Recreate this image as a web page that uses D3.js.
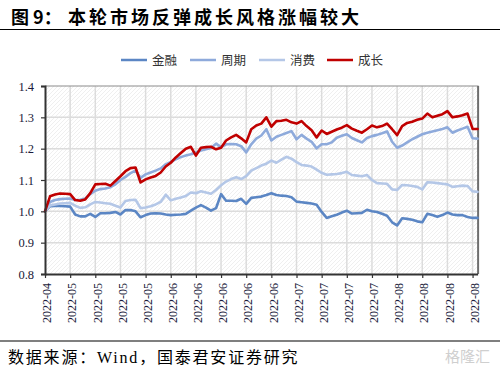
<!DOCTYPE html>
<html><head><meta charset="utf-8">
<script src="https://cdn.jsdelivr.net/npm/d3@7"></script>
<style>
html,body{margin:0;padding:0;background:#fff;}
svg{display:block;}
</style></head>
<body>
<svg id="c" width="500" height="371"></svg>
<script>
const seriesNames = ["金融","周期","消费","成长"];
const seriesColors = ["#5b86c4","#8eaadb","#b4c7e7","#c00000"];
const tickLabels = ["2022-04","2022-05","2022-05","2022-05","2022-05","2022-06","2022-06","2022-06","2022-06","2022-06","2022-07","2022-07","2022-07","2022-07","2022-08","2022-08","2022-08","2022-08"];
const yTicks = [0.8,0.9,1.0,1.1,1.2,1.3,1.4];

const finance = [1.000,1.016,1.017,1.017,1.016,1.015,0.990,0.984,0.984,0.992,0.982,0.994,0.994,0.995,0.998,0.990,1.004,1.004,1.000,0.981,
0.988,0.993,0.994,0.993,0.990,0.988,0.989,0.990,0.992,1.002,1.012,1.020,1.012,1.002,1.010,1.055,1.034,1.034,1.033,1.040,
1.024,1.043,1.045,1.047,1.052,1.058,1.052,1.050,1.049,1.045,1.031,1.029,1.027,1.025,1.021,0.998,0.979,0.984,0.989,0.996,
1.002,0.993,0.994,0.995,1.005,1.000,0.998,0.992,0.986,0.965,0.955,0.978,0.976,0.973,0.968,0.965,0.992,0.988,0.983,0.988,
0.996,0.990,0.988,0.988,0.982,0.979,0.979];
const cyclical = [1.000,1.030,1.036,1.039,1.040,1.041,1.036,1.037,1.041,1.055,1.066,1.071,1.073,1.077,1.086,1.100,1.110,1.122,1.130,1.107,
1.118,1.124,1.130,1.137,1.150,1.158,1.166,1.173,1.178,1.182,1.188,1.194,1.198,1.202,1.216,1.205,1.214,1.215,1.214,1.208,
1.188,1.214,1.232,1.242,1.262,1.226,1.238,1.244,1.250,1.256,1.230,1.244,1.232,1.222,1.201,1.214,1.214,1.220,1.235,1.241,
1.246,1.234,1.227,1.220,1.234,1.240,1.244,1.249,1.255,1.222,1.203,1.210,1.220,1.230,1.238,1.246,1.251,1.255,1.259,1.263,
1.268,1.251,1.258,1.264,1.270,1.233,1.232];
const consumer = [1.000,1.019,1.022,1.025,1.026,1.027,1.018,1.011,1.013,1.022,1.030,1.028,1.026,1.024,1.018,1.012,1.033,1.036,1.037,1.010,
1.012,1.016,1.022,1.030,1.053,1.035,1.040,1.044,1.049,1.060,1.058,1.064,1.060,1.056,1.068,1.083,1.095,1.103,1.109,1.103,
1.112,1.130,1.138,1.146,1.152,1.162,1.155,1.165,1.174,1.168,1.157,1.148,1.146,1.143,1.133,1.123,1.117,1.118,1.119,1.122,
1.126,1.116,1.114,1.112,1.116,1.100,1.090,1.089,1.088,1.070,1.068,1.084,1.083,1.081,1.078,1.070,1.093,1.092,1.090,1.088,
1.086,1.078,1.080,1.082,1.081,1.064,1.062];
const growth = [1.000,1.048,1.054,1.057,1.056,1.055,1.036,1.034,1.038,1.058,1.086,1.087,1.088,1.082,1.097,1.112,1.128,1.138,1.140,1.092,
1.102,1.108,1.113,1.124,1.143,1.155,1.172,1.186,1.200,1.206,1.178,1.203,1.205,1.206,1.198,1.203,1.226,1.236,1.244,1.233,
1.220,1.262,1.274,1.280,1.300,1.270,1.288,1.289,1.292,1.284,1.280,1.288,1.272,1.259,1.236,1.258,1.247,1.254,1.261,1.267,
1.275,1.264,1.257,1.251,1.262,1.274,1.268,1.272,1.280,1.262,1.243,1.272,1.282,1.286,1.292,1.296,1.312,1.300,1.305,1.310,
1.320,1.300,1.303,1.307,1.312,1.263,1.263];
const allSeries = [finance, cyclical, consumer, growth];

const svg = d3.select("#c");
const L = 45, R = 477.6, T = 86, B = 274;
const n = growth.length;
const x = d3.scaleLinear().domain([0, n-1]).range([L, R]);
const y = d3.scaleLinear().domain([0.8, 1.4]).range([B, T]);
const tickIdx = tickLabels.map((d,i)=>i*5);

// title
svg.append("text").attr("x",11).attr("y",24).attr("font-family","Noto Sans CJK SC").attr("font-weight",700)
  .attr("font-size",18).attr("fill","#000").text("图 9：");
svg.append("text").attr("x",68).attr("y",24).attr("font-family","Noto Sans CJK SC").attr("font-weight",700)
  .attr("font-size",18).attr("letter-spacing",3).attr("fill","#000").text("本轮市场反弹成长风格涨幅较大");
svg.append("line").attr("x1",0).attr("x2",500).attr("y1",29.5).attr("y2",29.5).attr("stroke","#000").attr("stroke-width",1.2);

// legend
const legX = [121,190,259,327];
seriesNames.forEach((nm,i)=>{
  svg.append("line").attr("x1",legX[i]).attr("x2",legX[i]+26).attr("y1",60).attr("y2",60)
    .attr("stroke",seriesColors[i]).attr("stroke-width",2.5);
  svg.append("text").attr("x",legX[i]+31).attr("y",64.5).attr("font-family","Noto Sans CJK SC")
    .attr("font-size",12.5).attr("fill","#333").text(nm);
});

// hatch pattern
const defs = svg.append("defs");
const pat = defs.append("pattern").attr("id","hatch").attr("patternUnits","userSpaceOnUse").attr("width",4).attr("height",4);
pat.append("path").attr("d","M-1,1 l2,-2 M0,4 l4,-4 M3,5 l2,-2").attr("stroke","#ebebeb").attr("stroke-width",0.8);
svg.append("rect").attr("x",L).attr("y",T).attr("width",R-L).attr("height",B-T).attr("fill","url(#hatch)");

// grid
svg.append("g").selectAll("line").data(yTicks.slice(1,-1)).join("line")
  .attr("x1",L).attr("x2",R).attr("y1",d=>y(d)).attr("y2",d=>y(d)).attr("stroke","#dcdcdc").attr("stroke-width",1.5);
svg.append("g").selectAll("line").data(tickIdx.slice(1)).join("line")
  .attr("x1",d=>x(d)).attr("x2",d=>x(d)).attr("y1",T).attr("y2",B).attr("stroke","#dcdcdc").attr("stroke-width",1.5);

// borders
svg.append("line").attr("x1",L).attr("x2",R+1).attr("y1",T).attr("y2",T).attr("stroke","#8c8c8c").attr("stroke-width",1.2);
svg.append("line").attr("x1",R+0.5).attr("x2",R+0.5).attr("y1",T).attr("y2",B).attr("stroke","#6e6e6e").attr("stroke-width",2);

// lines
const line = d3.line().x((d,i)=>x(i)).y(d=>y(d)).curve(d3.curveLinear);
allSeries.forEach((s,i)=>{
  svg.append("path").datum(s).attr("d",line).attr("fill","none").attr("stroke",seriesColors[i])
    .attr("stroke-width",2.6).attr("stroke-linejoin","round").attr("stroke-linecap","round");
});

// axes
const yAxis = svg.append("g").attr("transform",`translate(${L},0)`)
  .call(d3.axisLeft(y).tickValues(yTicks).tickFormat(d3.format(".1f")).tickSize(4).tickPadding(7));
yAxis.select(".domain").attr("stroke","#333").attr("stroke-width",2);
yAxis.selectAll(".tick line").attr("stroke","#333").attr("stroke-width",1.2);
yAxis.selectAll("text").attr("font-family","Liberation Serif").attr("font-size",12.5).attr("fill","#1a1a3a");

const xAxis = svg.append("g").attr("transform",`translate(0,${B})`)
  .call(d3.axisBottom(x).tickValues(tickIdx).tickFormat((d,i)=>tickLabels[i]).tickSize(4).tickSizeOuter(0));
xAxis.select(".domain").attr("stroke","#333").attr("stroke-width",2);
xAxis.selectAll(".tick line").attr("stroke","#333").attr("stroke-width",1.2);
xAxis.selectAll("text").attr("font-family","Liberation Serif").attr("font-size",12).attr("fill","#1a1a3a")
  .attr("text-anchor","end").attr("transform","rotate(-90)").attr("x",-9).attr("y",0).attr("dy","0.35em").attr("dx",0)
  .attr("transform",function(){return "rotate(-90) translate(0,1.5)";});

// footer
svg.append("line").attr("x1",0).attr("x2",500).attr("y1",341).attr("y2",341).attr("stroke","#000").attr("stroke-width",1.2);
svg.append("text").attr("x",8).attr("y",363).attr("font-family","Noto Sans CJK SC").attr("font-size",16)
  .attr("letter-spacing",1.8).attr("fill","#000")
  .selectAll("tspan").data([["数据来源：","Noto Sans CJK SC"],["Wind","Liberation Serif"],["，国泰君安证券研究","Noto Sans CJK SC"]])
  .join("tspan").attr("font-family",d=>d[1]).text(d=>d[0]);
svg.append("text").attr("x",490).attr("y",362).attr("text-anchor","end").attr("font-family","Noto Sans CJK SC")
  .attr("font-size",15).attr("fill","#cfcfcf").text("格隆汇");
</script>
</body></html>
